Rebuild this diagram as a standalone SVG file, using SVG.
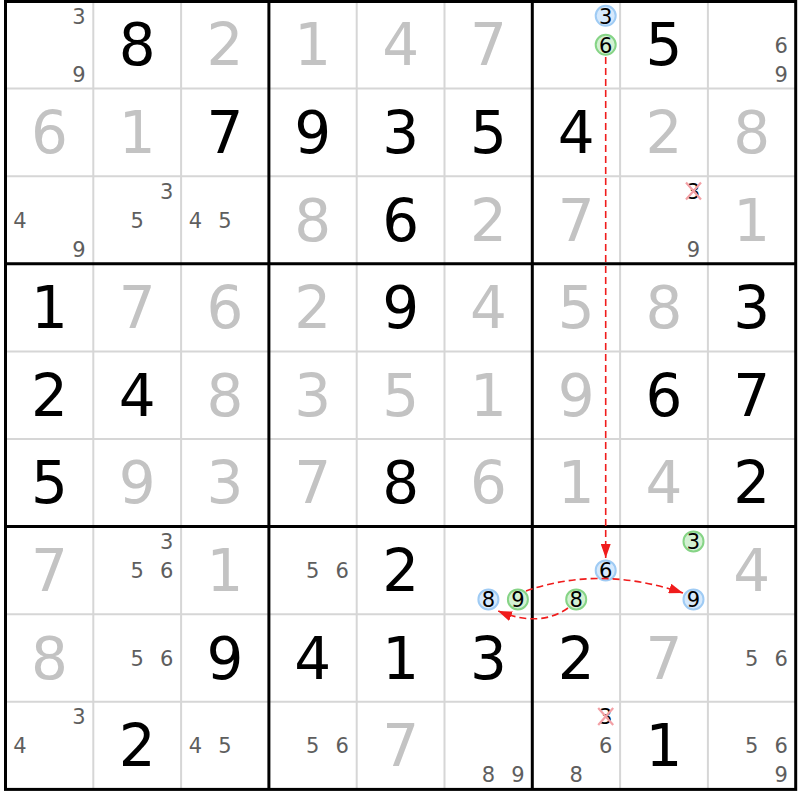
<svg xmlns="http://www.w3.org/2000/svg" width="800" height="800" viewBox="0 0 800 800">
<style>
text{font-family:"DejaVu Sans","Liberation Sans",sans-serif;text-anchor:middle}
.g{font-size:58px;fill:#000}
.s{font-size:58px;fill:#c3c3c3}
.c{font-size:21px;fill:#5e5e5e}
.k{font-size:21px;fill:#000}
.thin{stroke:#d6d6d6;stroke-width:2;fill:none}
.thick{stroke:#000;stroke-width:3;fill:none}
.cb{fill:#d6e9fc;stroke:#9fcbf4;stroke-width:2}
.cg{fill:#d3f1d3;stroke:#86d486;stroke-width:2}
.x{stroke:#f3a0a5;stroke-width:2.2}
.ar{stroke:#f01c1c;stroke-width:1.6;fill:none;stroke-dasharray:7 4}
</style>
<defs>
<marker id="ah" markerUnits="userSpaceOnUse" markerWidth="14" markerHeight="10" refX="14" refY="5" orient="auto">
<path d="M0,0 L14,5 L0,10 z" fill="#f01c1c"/>
</marker>
</defs>
<rect width="800" height="800" fill="#fff"/>
<g id="grid">
<path class="thin" d="M93.3,1V789.4M181.1,1V789.4M356.7,1V789.4M444.5,1V789.4M620.1,1V789.4M707.9,1V789.4M5.5,88.6H795.7M5.5,176.2H795.7M5.5,351.4H795.7M5.5,439H795.7M5.5,614.2H795.7M5.5,701.8H795.7"/>
<path class="thick" d="M268.9,1V789.4M532.3,1V789.4M5.5,263.8H795.7M5.5,526.6H795.7"/>
<rect class="thick" x="5.5" y="1.5" width="790.2" height="787.9"/>
</g>
<g id="row0">
<g id="r0c0"><text class="c" x="78.9" y="23.5">3</text><text class="c" x="78.9" y="81.5">9</text></g>
<g id="r0c1"><text class="g" x="137.2" y="65.3">8</text></g>
<g id="r0c2"><text class="s" x="225" y="65.3">2</text></g>
<g id="r0c3"><text class="s" x="312.8" y="65.3">1</text></g>
<g id="r0c4"><text class="s" x="400.6" y="65.3">4</text></g>
<g id="r0c5"><text class="s" x="488.4" y="65.3">7</text></g>
<g id="r0c6"><circle class="cb" cx="605.7" cy="15.8" r="10"/><text class="k" x="605.7" y="23.5">3</text><circle class="cg" cx="605.7" cy="44.8" r="10"/><text class="k" x="605.7" y="52.5">6</text></g>
<g id="r0c7"><text class="g" x="664" y="65.3">5</text></g>
<g id="r0c8"><text class="c" x="781.3" y="52.5">6</text><text class="c" x="781.3" y="81.5">9</text></g>
</g>
<g id="row1">
<text class="s" x="49.4" y="152.9">6</text>
<text class="s" x="137.2" y="152.9">1</text>
<text class="g" x="225" y="152.9">7</text>
<text class="g" x="312.8" y="152.9">9</text>
<text class="g" x="400.6" y="152.9">3</text>
<text class="g" x="488.4" y="152.9">5</text>
<text class="g" x="576.2" y="152.9">4</text>
<text class="s" x="664" y="152.9">2</text>
<text class="s" x="751.8" y="152.9">8</text>
</g>
<g id="row2">
<g id="r2c0"><text class="c" x="19.9" y="227.7">4</text><text class="c" x="78.9" y="256.7">9</text></g>
<g id="r2c1"><text class="c" x="166.7" y="198.7">3</text><text class="c" x="137.2" y="227.7">5</text></g>
<g id="r2c2"><text class="c" x="195.5" y="227.7">4</text><text class="c" x="225" y="227.7">5</text></g>
<text class="s" x="312.8" y="240.5">8</text>
<text class="g" x="400.6" y="240.5">6</text>
<text class="s" x="488.4" y="240.5">2</text>
<text class="s" x="576.2" y="240.5">7</text>
<g id="r2c7"><text class="k" x="693.5" y="198.7">3</text><path class="x" d="M686,182.5L701,199.5M701,182.5L686,199.5"/><text class="c" x="693.5" y="256.7">9</text></g>
<text class="s" x="751.8" y="240.5">1</text>
</g>
<g id="row3">
<text class="g" x="49.4" y="328.1">1</text>
<text class="s" x="137.2" y="328.1">7</text>
<text class="s" x="225" y="328.1">6</text>
<text class="s" x="312.8" y="328.1">2</text>
<text class="g" x="400.6" y="328.1">9</text>
<text class="s" x="488.4" y="328.1">4</text>
<text class="s" x="576.2" y="328.1">5</text>
<text class="s" x="664" y="328.1">8</text>
<text class="g" x="751.8" y="328.1">3</text>
</g>
<g id="row4">
<text class="g" x="49.4" y="415.7">2</text>
<text class="g" x="137.2" y="415.7">4</text>
<text class="s" x="225" y="415.7">8</text>
<text class="s" x="312.8" y="415.7">3</text>
<text class="s" x="400.6" y="415.7">5</text>
<text class="s" x="488.4" y="415.7">1</text>
<text class="s" x="576.2" y="415.7">9</text>
<text class="g" x="664" y="415.7">6</text>
<text class="g" x="751.8" y="415.7">7</text>
</g>
<g id="row5">
<text class="g" x="49.4" y="503.3">5</text>
<text class="s" x="137.2" y="503.3">9</text>
<text class="s" x="225" y="503.3">3</text>
<text class="s" x="312.8" y="503.3">7</text>
<text class="g" x="400.6" y="503.3">8</text>
<text class="s" x="488.4" y="503.3">6</text>
<text class="s" x="576.2" y="503.3">1</text>
<text class="s" x="664" y="503.3">4</text>
<text class="g" x="751.8" y="503.3">2</text>
</g>
<g id="row6">
<text class="s" x="49.4" y="590.9">7</text>
<g id="r6c1"><text class="c" x="166.7" y="549.1">3</text><text class="c" x="137.2" y="578.1">5</text><text class="c" x="166.7" y="578.1">6</text></g>
<text class="s" x="225" y="590.9">1</text>
<g id="r6c3"><text class="c" x="312.8" y="578.1">5</text><text class="c" x="342.3" y="578.1">6</text></g>
<text class="g" x="400.6" y="590.9">2</text>
<g id="r6c5"><circle class="cb" cx="488.4" cy="599.4" r="10"/><text class="k" x="488.4" y="607.1">8</text><circle class="cg" cx="517.9" cy="599.4" r="10"/><text class="k" x="517.9" y="607.1">9</text></g>
<g id="r6c6"><circle class="cb" cx="605.7" cy="570.4" r="10"/><text class="k" x="605.7" y="578.1">6</text><circle class="cg" cx="576.2" cy="599.4" r="10"/><text class="k" x="576.2" y="607.1">8</text></g>
<g id="r6c7"><circle class="cg" cx="693.5" cy="541.4" r="10"/><text class="k" x="693.5" y="549.1">3</text><circle class="cb" cx="693.5" cy="599.4" r="10"/><text class="k" x="693.5" y="607.1">9</text></g>
<text class="s" x="751.8" y="590.9">4</text>
</g>
<g id="row7">
<text class="s" x="49.4" y="678.5">8</text>
<g id="r7c1"><text class="c" x="137.2" y="665.7">5</text><text class="c" x="166.7" y="665.7">6</text></g>
<text class="g" x="225" y="678.5">9</text>
<text class="g" x="312.8" y="678.5">4</text>
<text class="g" x="400.6" y="678.5">1</text>
<text class="g" x="488.4" y="678.5">3</text>
<text class="g" x="576.2" y="678.5">2</text>
<text class="s" x="664" y="678.5">7</text>
<g id="r7c8"><text class="c" x="751.8" y="665.7">5</text><text class="c" x="781.3" y="665.7">6</text></g>
</g>
<g id="row8">
<g id="r8c0"><text class="c" x="78.9" y="724.3">3</text><text class="c" x="19.9" y="753.3">4</text></g>
<text class="g" x="137.2" y="766.1">2</text>
<g id="r8c2"><text class="c" x="195.5" y="753.3">4</text><text class="c" x="225" y="753.3">5</text></g>
<g id="r8c3"><text class="c" x="312.8" y="753.3">5</text><text class="c" x="342.3" y="753.3">6</text></g>
<text class="s" x="400.6" y="766.1">7</text>
<g id="r8c5"><text class="c" x="488.4" y="782.3">8</text><text class="c" x="517.9" y="782.3">9</text></g>
<g id="r8c6"><text class="k" x="605.7" y="724.3">3</text><path class="x" d="M598.2,708.1L613.2,725.1M613.2,708.1L598.2,725.1"/><text class="c" x="605.7" y="753.3">6</text><text class="c" x="576.2" y="782.3">8</text></g>
<text class="g" x="664" y="766.1">1</text>
<g id="r8c8"><text class="c" x="751.8" y="753.3">5</text><text class="c" x="781.3" y="753.3">6</text><text class="c" x="781.3" y="782.3">9</text></g>
</g>
<g id="connectors">
<path class="ar" d="M605.7,57 L605.7,558" marker-end="url(#ah)"/>
<path class="ar" d="M526,591 Q600,565 683,593" marker-end="url(#ah)"/>
<path class="ar" d="M568,608 Q540,628 498,611" marker-end="url(#ah)"/>
</g>
</svg>
